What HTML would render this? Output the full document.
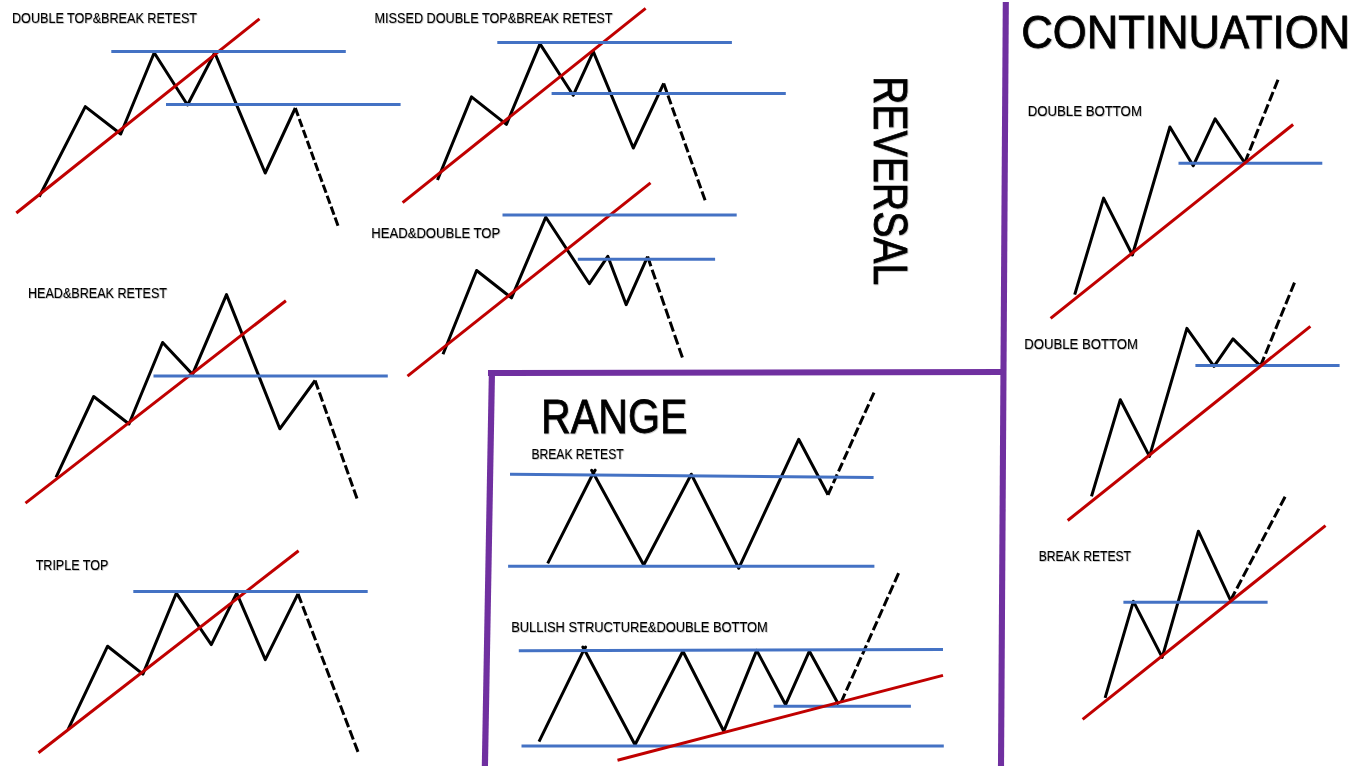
<!DOCTYPE html>
<html><head><meta charset="utf-8"><title>Chart patterns</title>
<style>
html,body{margin:0;padding:0;background:#fff;overflow:hidden}
svg{display:block}
text{font-family:"Liberation Sans",sans-serif;fill:#000}
text{stroke:#000;stroke-width:0.1px}
.big{stroke-width:0.8px}
</style></head><body>
<svg width="1362" height="766" viewBox="0 0 1362 766">
<defs><filter id="sh" x="-5%" y="-5%" width="110%" height="110%"><feDropShadow dx="0.7" dy="0.7" stdDeviation="0.55" flood-color="#000" flood-opacity="0.3"/></filter></defs>
<rect width="1362" height="766" fill="#fff"/>
<polyline fill="none" stroke="#000" stroke-width="3.0" stroke-linejoin="round" points="39.2,196.8 85.3,106.6 120.7,134 154.2,52.7 187.5,105.0 214.7,52.7 265.2,173 295.3,108"/>
<line x1="295.3" y1="108" x2="338" y2="225.7" stroke="#000" stroke-width="3.0" stroke-dasharray="8.627 3.031"/>
<line x1="16.3" y1="213" x2="259.5" y2="18.8" stroke="#C00000" stroke-width="3.0"/>
<line x1="111.3" y1="51.6" x2="345.8" y2="51.6" stroke="#4472C4" stroke-width="3"/>
<line x1="166" y1="104.4" x2="400.6" y2="104.4" stroke="#4472C4" stroke-width="3"/>
<polyline fill="none" stroke="#000" stroke-width="3.0" stroke-linejoin="round" points="56,477.3 93.7,396.5 129,424 162.6,342.5 192.5,374.4 226.5,294.6 279.8,428.8 315.1,380.5"/>
<line x1="315.1" y1="380.5" x2="357.0" y2="498.5" stroke="#000" stroke-width="3.0" stroke-dasharray="9.514 3.342"/>
<line x1="25.5" y1="503.1" x2="285.9" y2="300.7" stroke="#C00000" stroke-width="3.0"/>
<line x1="153.5" y1="376.0" x2="387.8" y2="376.0" stroke="#4472C4" stroke-width="3"/>
<polyline fill="none" stroke="#000" stroke-width="3.0" stroke-linejoin="round" points="68.1,729.4 107.6,646.2 142.9,674.1 176.3,593.2 211.3,644.6 236.7,593.2 265.3,659.7 298,593.9"/>
<line x1="298" y1="593.9" x2="358" y2="751.9" stroke="#000" stroke-width="3.0" stroke-dasharray="9.817 3.449"/>
<line x1="38.5" y1="752.8" x2="298.6" y2="550.8" stroke="#C00000" stroke-width="3.0"/>
<line x1="133.3" y1="591.4" x2="367.7" y2="591.4" stroke="#4472C4" stroke-width="3"/>
<polyline fill="none" stroke="#000" stroke-width="3.0" stroke-linejoin="round" points="437.5,180 471.5,96.9 506.4,124.4 540,43.9 573.2,95.3 593.3,51.7 633.3,148 663.7,83.4"/>
<line x1="663.7" y1="83.4" x2="705.1" y2="200.3" stroke="#000" stroke-width="3.0" stroke-dasharray="9.422 3.31"/>
<line x1="402.6" y1="202.6" x2="645.6" y2="8.4" stroke="#C00000" stroke-width="3.0"/>
<line x1="497.3" y1="42.4" x2="731.9" y2="42.4" stroke="#4472C4" stroke-width="3"/>
<line x1="551.6" y1="93.5" x2="785.8" y2="93.5" stroke="#4472C4" stroke-width="3"/>
<polyline fill="none" stroke="#000" stroke-width="3.0" stroke-linejoin="round" points="443,354.2 476.6,270.5 511.5,297.9 545.8,217.2 589.4,283.7 607.8,256.3 626.2,304.7 647.6,256.6"/>
<line x1="647.6" y1="256.6" x2="682.4" y2="357.6" stroke="#000" stroke-width="3.0" stroke-dasharray="10.213 3.589"/>
<line x1="407.5" y1="376.1" x2="650.5" y2="182.9" stroke="#C00000" stroke-width="3.0"/>
<line x1="502.5" y1="215.0" x2="736.7" y2="215.0" stroke="#4472C4" stroke-width="3"/>
<line x1="577.8" y1="259.3" x2="715.1" y2="259.3" stroke="#4472C4" stroke-width="3"/>
<polyline fill="none" stroke="#000" stroke-width="3.0" stroke-linejoin="round" points="547.7,563.4 593.3,473 643.7,565 691.3,474.2 738.8,568.2 798.7,439.3 828,494.8"/>
<line x1="828" y1="494.8" x2="874.0" y2="392.6" stroke="#000" stroke-width="3.0" stroke-dasharray="9.489 3.334"/>
<line x1="510" y1="474.2" x2="873.6" y2="477.4" stroke="#4472C4" stroke-width="3"/>
<line x1="508.1" y1="566.2" x2="874.4" y2="566.2" stroke="#4472C4" stroke-width="3"/>
<line x1="593.6" y1="472.6" x2="595.2" y2="470.2" stroke="#000" stroke-width="3.0" stroke-linecap="round"/>
<line x1="593.0" y1="472.6" x2="591.6" y2="470.2" stroke="#000" stroke-width="3.0" stroke-linecap="round"/>
<polyline fill="none" stroke="#000" stroke-width="3.0" stroke-linejoin="round" points="539,741.6 584.2,649.2 635,744.8 682.9,651.2 723.8,731.3 756.7,650.4 785.6,704.7 809.4,651.2 838.6,704.5"/>
<line x1="841.0" y1="702.5" x2="898.6" y2="573.1" stroke="#000" stroke-width="3.0" stroke-dasharray="9.759 3.429"/>
<path d="M584.2 649.6 L585.6 647.1 M584.2 649.6 L582.8 647.1" stroke="#000" stroke-width="3" stroke-linecap="round" fill="none"/>
<line x1="518.8" y1="650.8" x2="943" y2="649.6" stroke="#4472C4" stroke-width="3"/>
<line x1="521.5" y1="746" x2="943.8" y2="746" stroke="#4472C4" stroke-width="3"/>
<line x1="773.7" y1="706.3" x2="910.9" y2="706.3" stroke="#4472C4" stroke-width="3"/>
<line x1="617.5" y1="760.2" x2="943" y2="675.4" stroke="#C00000" stroke-width="3.0"/>
<polyline fill="none" stroke="#000" stroke-width="3.0" stroke-linejoin="round" points="1074.7,294.6 1103.6,198.1 1132.4,255 1169.9,127 1193.2,165.8 1215.1,118.9 1244.8,162.8"/>
<line x1="1244.8" y1="162.8" x2="1278" y2="79.7" stroke="#000" stroke-width="3.0" stroke-dasharray="9.825 3.452"/>
<line x1="1178.5" y1="163.2" x2="1322.3" y2="163.2" stroke="#4472C4" stroke-width="3"/>
<line x1="1050.6" y1="318.3" x2="1293.1" y2="124.5" stroke="#C00000" stroke-width="3.0"/>
<polyline fill="none" stroke="#000" stroke-width="3.0" stroke-linejoin="round" points="1091.5,496.4 1120.3,399.7 1149.5,456.4 1186.9,328.4 1214,366.4 1233,338.9 1260.5,366.1"/>
<line x1="1260.5" y1="366.1" x2="1294.5" y2="282.6" stroke="#000" stroke-width="3.0" stroke-dasharray="9.899 3.477"/>
<line x1="1195.4" y1="365.4" x2="1339.6" y2="365.4" stroke="#4472C4" stroke-width="3"/>
<line x1="1067.7" y1="520.5" x2="1310.4" y2="326.3" stroke="#C00000" stroke-width="3.0"/>
<polyline fill="none" stroke="#000" stroke-width="3.0" stroke-linejoin="round" points="1105.1,697.8 1133.4,601.4 1162.2,657.4 1198.4,531.2 1230.6,600.3"/>
<line x1="1230.6" y1="600.3" x2="1285.1" y2="496.8" stroke="#000" stroke-width="3.0" stroke-dasharray="9.904 3.48"/>
<line x1="1123.4" y1="602.2" x2="1267.6" y2="602.2" stroke="#4472C4" stroke-width="3"/>
<line x1="1082.6" y1="719.4" x2="1325.5" y2="525.6" stroke="#C00000" stroke-width="3.0"/>
<line x1="1005.81" y1="2" x2="1000.99" y2="768" stroke="#7030A0" stroke-width="6.1"/>
<line x1="491.95" y1="371" x2="484.86" y2="768" stroke="#7030A0" stroke-width="6.2"/>
<line x1="488.0" y1="373.0" x2="1003.5" y2="371.9" stroke="#7030A0" stroke-width="6.0"/>
<g filter="url(#sh)">
<text x="12" y="23" font-size="14" textLength="185" lengthAdjust="spacingAndGlyphs">DOUBLE TOP&amp;BREAK RETEST</text>
<text x="28" y="298" font-size="14" textLength="139" lengthAdjust="spacingAndGlyphs">HEAD&amp;BREAK RETEST</text>
<text x="35.7" y="570.4" font-size="14" textLength="72.6" lengthAdjust="spacingAndGlyphs">TRIPLE TOP</text>
<text x="374.5" y="23.3" font-size="14" textLength="238" lengthAdjust="spacingAndGlyphs">MISSED DOUBLE TOP&amp;BREAK RETEST</text>
<text x="371.3" y="237.9" font-size="14" textLength="129" lengthAdjust="spacingAndGlyphs">HEAD&amp;DOUBLE TOP</text>
<text x="531.5" y="459.1" font-size="14" textLength="92.1" lengthAdjust="spacingAndGlyphs">BREAK RETEST</text>
<text x="511.2" y="632.1" font-size="14" textLength="256.6" lengthAdjust="spacingAndGlyphs">BULLISH STRUCTURE&amp;DOUBLE BOTTOM</text>
<text x="1027.7" y="116.3" font-size="14" textLength="114.2" lengthAdjust="spacingAndGlyphs">DOUBLE BOTTOM</text>
<text x="1024.3" y="348.8" font-size="14" textLength="113.7" lengthAdjust="spacingAndGlyphs">DOUBLE BOTTOM</text>
<text x="1038.7" y="560.7" font-size="14" textLength="92.3" lengthAdjust="spacingAndGlyphs">BREAK RETEST</text>
<text x="541.1" y="433.1" font-size="48" textLength="146.4" lengthAdjust="spacingAndGlyphs" class="big">RANGE</text>
<text x="1021.2" y="47.6" font-size="46.3" textLength="328.9" lengthAdjust="spacingAndGlyphs" class="big">CONTINUATION</text>
<text class="big" transform="translate(873.6,76.0) rotate(90)" x="0" y="0" font-size="48" textLength="209.3" lengthAdjust="spacingAndGlyphs">REVERSAL</text>
</g>
</svg>
</body></html>
